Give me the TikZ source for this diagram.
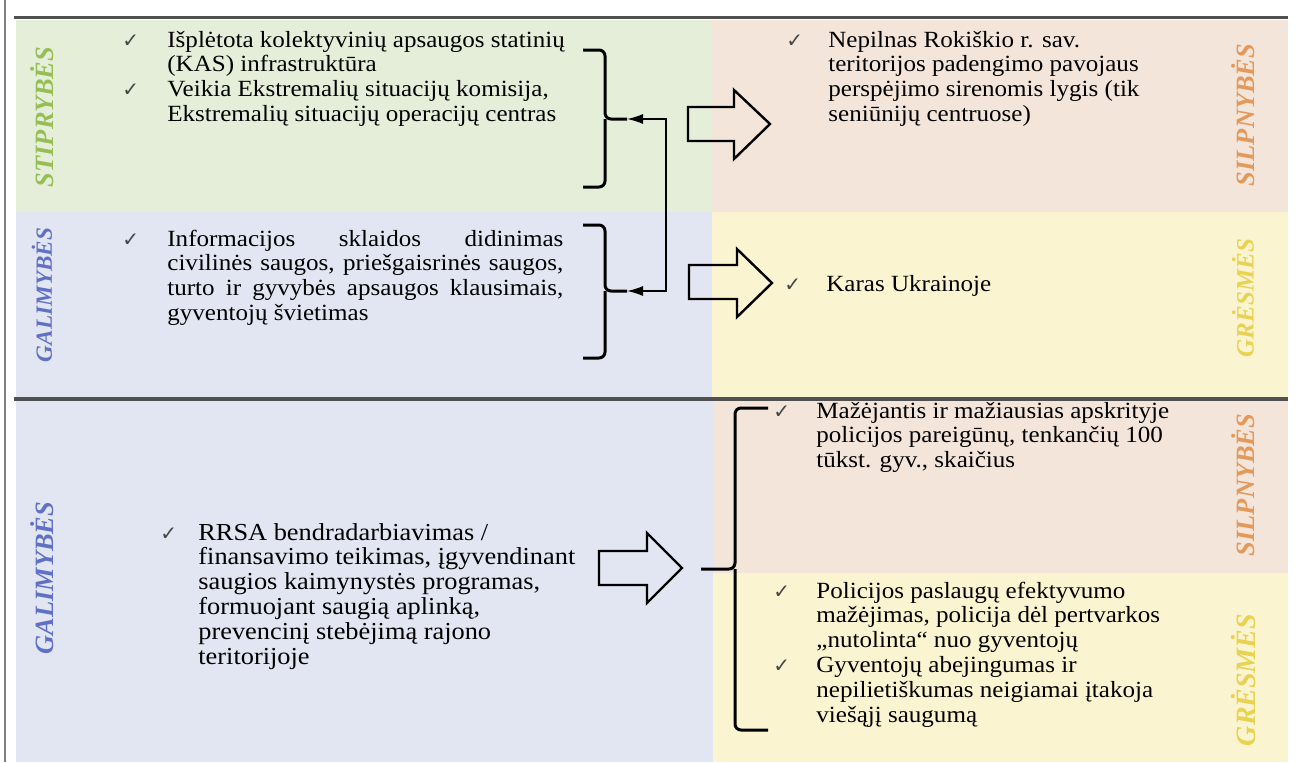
\documentclass[tikz,border=0pt]{standalone}
\usepackage{fontspec}
\setmainfont{Liberation Serif}[FakeStretch=1.08]
\newfontfamily\labfont{Liberation Serif}
\newfontfamily\dejavu{DejaVu Sans}
\usetikzlibrary{arrows.meta}
\definecolor{bggreen}{RGB}{229,238,217}
\definecolor{bgpeach}{RGB}{243,229,217}
\definecolor{bgblue}{RGB}{225,230,242}
\definecolor{bgyellow}{RGB}{251,244,208}
\definecolor{lgreen}{RGB}{150,190,85}
\definecolor{lorange}{RGB}{228,152,90}
\definecolor{lblue}{RGB}{96,112,196}
\definecolor{lyellow}{RGB}{232,210,80}
\definecolor{rulegray}{RGB}{80,80,80}
\definecolor{checkgray}{RGB}{70,70,70}
\newcommand{\para}[2]{\parbox[t]{#1}{\raggedright #2}}
\begin{document}
\begin{tikzpicture}[x=0.5pt,y=-0.5pt,
  txt/.style={inner sep=0pt, anchor=base west, font=\fontsize{11.6}{12.4}\selectfont},
  bigtxt/.style={inner sep=0pt, anchor=base west, font=\fontsize{12.2}{12.4}\selectfont},
  chk/.style={inner sep=0pt, anchor=base west, text=checkgray, font=\dejavu\fontsize{10}{10}\selectfont},
  lab/.style={inner sep=0pt, rotate=90, font=\labfont\fontsize{13.2}{13}\selectfont\bfseries\itshape},
  brk/.style={line width=1.5pt, rounded corners=3pt, black},
  blk/.style={line width=1.2pt, black, line join=miter},
  conn/.style={line width=0.75pt, black, {Latex[length=8pt,width=5pt]}-{Latex[length=8pt,width=5pt]}},
  hrule/.style={line width=1.6pt, rulegray},
  vrule/.style={line width=1pt, gray}]
\useasboundingbox (0,0) rectangle (1298,762);
\fill[white] (0,0) rectangle (1298,762);
% backgrounds
\fill[bggreen] (16,20) rectangle (712,212);
\fill[bgpeach] (712,20) rectangle (1288,212);
\fill[bgblue] (16,212) rectangle (712,397);
\fill[bgyellow] (712,212) rectangle (1288,397);
\fill[bgblue] (16,401) rectangle (713,762);
\fill[bgpeach] (713,401) rectangle (1288,573);
\fill[bgyellow] (713,573) rectangle (1288,762);
% rules
\draw[hrule] (14,17.5) -- (1288,17.5);
\draw[hrule] (14,399) -- (1288,399);
\draw[vrule] (5,0) -- (5,762);
% labels
\node[lab, text=lgreen] (lS) at (42,117) {STIPRYBĖS};
\node[lab, text=lblue, font=\labfont\fontsize{11.6}{12}\selectfont\bfseries\itshape] (lG1) at (42,295) {GALIMYBĖS};
\node[lab, text=lblue] (lG2) at (42,578) {GALIMYBĖS};
\node[lab, text=lorange] (lW1) at (1243,115) {SILPNYBĖS};
\node[lab, text=lyellow, font=\labfont\fontsize{12.5}{12}\selectfont\bfseries\itshape] (lT1) at (1243,298) {GRĖSMĖS};
\node[lab, text=lorange] (lW2) at (1243,485) {SILPNYBĖS};
\node[lab, text=lyellow, font=\labfont\fontsize{14}{14}\selectfont\bfseries\itshape] (lT2) at (1243,680) {GRĖSMĖS};
% top-left
\node[chk] (c1) at (122,47) {✓};
\node[chk] (c2) at (122,96.6) {✓};
\node[txt] (t1) at (167,47) {\para{240pt}{Išplėtota kolektyvinių apsaugos statinių\\(KAS) infrastruktūra\\Veikia Ekstremalių situacijų komisija,\\Ekstremalių situacijų operacijų centras}};
% top-right
\node[chk] (c3) at (786,47) {✓};
\node[txt] (t2) at (828,47) {\para{200pt}{Nepilnas Rokiškio r. sav.\\teritorijos padengimo pavojaus\\perspėjimo sirenomis lygis (tik\\seniūnijų centruose)}};
% blue top-left
\node[chk] (c4) at (122,246) {✓};
\node[txt] (t3) at (167,246) {\parbox[t]{198pt}{\makebox[198pt][s]{Informacijos sklaidos didinimas}\\\makebox[198pt][s]{civilinės saugos, priešgaisrinės saugos,}\\\makebox[198pt][s]{turto ir gyvybės apsaugos klausimais,}\\gyventojų švietimas}};
% yellow top-right
\node[chk] (c5) at (784,291) {✓};
\node[txt] (t4) at (826,291) {Karas Ukrainoje};
% bottom-left
\node[chk] (c6) at (160,540) {✓};
\node[bigtxt] (t5) at (198,540) {\para{220pt}{RRSA bendradarbiavimas /\\finansavimo teikimas, įgyvendinant\\saugios kaimynystės programas,\\formuojant saugią aplinką,\\prevencinį stebėjimą rajono\\teritorijoje}};
% bottom-right peach
\node[chk] (c7) at (773,418) {✓};
\node[txt] (t6) at (816,418) {\para{220pt}{Mažėjantis ir mažiausias apskrityje\\policijos pareigūnų, tenkančių 100\\tūkst. gyv., skaičius}};
% bottom-right yellow
\node[chk] (c8) at (773,598) {✓};
\node[chk] (c9) at (773,672.4) {✓};
\node[txt] (t7) at (816,598) {\para{220pt}{Policijos paslaugų efektyvumo\\mažėjimas, policija dėl pertvarkos\\„nutolinta“ nuo gyventojų\\Gyventojų abejingumas ir\\nepilietiškumas neigiamai įtakoja\\viešąjį saugumą}};
% brackets
\coordinate (b1tip) at (627,119);
\coordinate (b2tip) at (627,291);
\coordinate (b3tip) at (701,569);
\draw[brk] (583,50) -- (605,50) -- (605,119) -- (b1tip);
\draw[brk] (583,187) -- (605,187) -- (605,119);
\draw[brk] (583,225) -- (605,225) -- (605,291) -- (b2tip);
\draw[brk] (583,358) -- (605,358) -- (605,291);
\draw[brk] (768,408) -- (735,408) -- (735,569) -- (b3tip);
\draw[brk] (768,730) -- (735,730) -- (735,569);
% connector between brackets
\draw[conn] (b1tip) -- ++(39,0) |- (b2tip);
% block arrows
\draw[blk] (688,107) -- (734,107) -- (734,90) -- (770,124) -- (734,159) -- (734,141) -- (688,141) -- cycle;
\draw[blk] (689,265) -- (737,265) -- (737,249) -- (772,283) -- (737,317) -- (737,299) -- (689,299) -- cycle;
\draw[blk] (599,551) -- (647,551) -- (647,533) -- (682,568) -- (647,603) -- (647,585) -- (599,585) -- cycle;
\end{tikzpicture}
\end{document}
